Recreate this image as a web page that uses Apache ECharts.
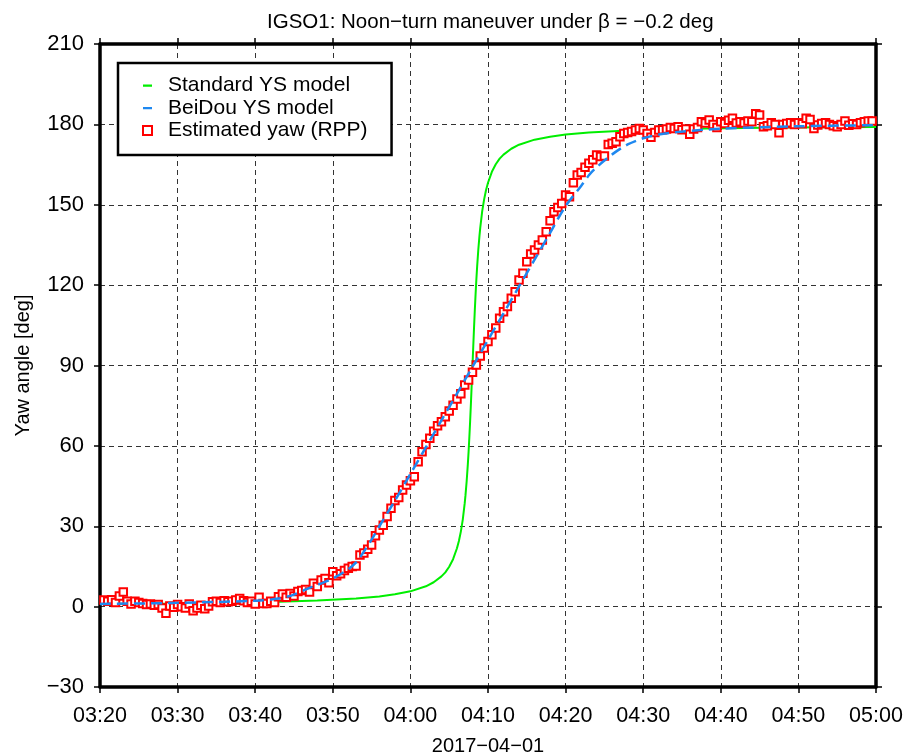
<!DOCTYPE html>
<html><head><meta charset="utf-8">
<script src="https://cdn.jsdelivr.net/npm/echarts@6/dist/echarts.min.js"></script>
<style>html,body{margin:0;padding:0;background:#fff}#c{width:906px;height:756px}</style>
</head><body><div id="c"></div>
<script>
// x axis: minutes after 03:20 on 2017-04-01
const xTickLabels = ['03:20','03:30','03:40','03:50','04:00','04:10','04:20','04:30','04:40','04:50','05:00'];
const yTicks = [-30, 0, 30, 60, 90, 120, 150, 180, 210];

// Estimated yaw (RPP), 30 s sampling starting 03:20:30
const yawStartMin = 0.5;
const yawStepMin = 0.5;
const yawRPP = [
  2.5, 2.0, 2.6, 1.5, 4.0, 5.5, 2.0, 1.0, 2.0, 1.5,
  1.2, 0.8, 1.0, 0.5, 0.8, -0.5, -2.5, 0.2, -0.2, 0.8,
  0.0, -0.5, 1.0, -1.5, -0.5, 0.5, -0.8, 0.2, 1.8, 2.0,
  1.5, 2.2, 1.8, 2.0, 2.5, 3.0, 2.2, 1.5, 2.0, 1.0,
  3.5, 1.2, 1.2, 2.0, 1.5, 3.7, 4.7, 3.5, 4.9, 4.0,
  5.6, 6.0, 6.4, 5.5, 8.7, 7.5, 9.9, 10.5, 8.9, 13.0,
  11.5, 12.3, 13.5, 14.3, 15.0, 15.2, 19.3, 20.0, 21.4, 23.0,
  26.5, 28.6, 30.4, 33.6, 36.7, 39.6, 40.7, 43.5, 45.4, 47.0,
  48.5, 54.1, 57.8, 60.5, 62.8, 65.5, 67.5, 69.0, 70.9, 73.0,
  75.2, 77.5, 79.5, 82.7, 84.6, 87.5, 90.2, 93.5, 96.5, 99.0,
  101.5, 104.0, 107.6, 110.1, 112.0, 115.1, 117.5, 121.9, 124.4, 128.7,
  131.6, 133.1, 135.0, 136.8, 139.9, 144.0, 147.4, 149.0, 150.5, 153.6,
  153.0, 158.2, 161.1, 162.0, 164.0, 165.5, 166.8, 168.6, 168.0, 168.2,
  172.5, 173.0, 173.5, 175.4, 176.6, 177.0, 177.3, 177.9, 178.5, 177.9,
  176.6, 175.2, 177.0, 177.9, 178.0, 178.3, 178.8, 178.5, 179.1, 178.0,
  178.3, 176.3, 178.3, 178.8, 181.0, 180.5, 181.6, 180.0, 178.8, 181.0,
  180.3, 181.5, 182.3, 180.5, 181.0, 180.5, 181.3, 181.0, 184.0, 183.5,
  179.1, 179.5, 180.6, 180.0, 176.9, 180.0, 180.3, 180.6, 180.0, 180.6,
  180.2, 182.3, 181.8, 178.5, 179.8, 180.3, 180.6, 180.0, 179.5, 179.1,
  180.0, 181.3, 179.7, 180.2, 180.0, 180.6, 181.0, 181.3, 181.3
];

// Standard YS model
const stdTimes = [0, 10, 20, 28, 33, 36, 38, 40, 42, 43, 44, 44.5, 45, 45.5, 46, 46.25, 46.5, 46.75, 47, 47.1, 47.25, 47.4, 47.5, 47.6, 47.7, 47.8, 47.9, 48, 48.1, 48.2, 48.3, 48.4, 48.5, 48.6, 48.75, 48.9, 49, 49.25, 49.5, 49.75, 50, 50.5, 51, 51.5, 52, 53, 54, 56, 58, 60, 63, 68, 78, 88, 100];
const stdYaw   = [1.0, 1.2, 1.5, 2.3, 3.0, 3.8, 4.6, 5.7, 7.6, 9.1, 11.3, 12.8, 14.9, 17.7, 21.8, 24.5, 28.0, 32.5, 38.6, 41.6, 46.8, 53.1, 57.9, 63.4, 69.4, 75.9, 82.9, 90.0, 97.1, 104.1, 110.6, 116.6, 122.1, 126.9, 133.2, 138.4, 141.4, 147.5, 152.0, 155.5, 158.2, 162.3, 165.1, 167.2, 168.7, 170.9, 172.4, 174.3, 175.4, 176.2, 177.0, 177.7, 178.5, 178.8, 179.0];

// BeiDou YS model
const bdsTimes = [0, 10, 20, 23, 25, 27, 30, 32, 33, 34, 35, 36, 38, 40, 42, 44, 46, 48, 50, 52, 54, 56, 58, 60, 62, 63, 64, 66, 68, 70, 72, 74, 80, 90, 100];
const bdsYaw   = [1.0, 1.4, 2.2, 3.0, 4.5, 7.0, 10.5, 14.0, 16.5, 20.5, 25.0, 30.0, 39.5, 49.5, 59.5, 69.5, 79.5, 89.5, 99.5, 109.5, 119.5, 129.5, 139.5, 149.5, 157.0, 161.0, 164.0, 168.8, 172.5, 174.8, 176.2, 177.0, 178.4, 179.3, 179.7];

const FONT = 'Liberation Sans';
const pair = (xs, ys) => xs.map((x, i) => [x, ys[i]]);
const yawData = yawRPP.map((v, i) => [yawStartMin + i * yawStepMin, v]);

// legend icon: short horizontal dash inside a 9x9 box
const dashIcon = 'path://M0,0 L0.01,0 M0,3.5 L9,3.5 L9,5.7 L0,5.7 Z M9,9 L8.99,9';

const chart = echarts.init(document.getElementById('c'), null, {renderer: 'canvas'});
const frameLine = {show: true, onZero: false, lineStyle: {color: '#000', width: 3.5}};
const tick = {show: true, inside: false, length: 6, lineStyle: {color: '#000', width: 1.5}};
const grid = {show: true, lineStyle: {color: '#333', width: 1, type: [5, 4]}};

chart.setOption({
  animation: false,
  backgroundColor: '#fff',
  title: {
    text: 'IGSO1: Noon\u2212turn maneuver under \u03B2 = \u22120.2 deg',
    left: 262, top: 7,
    textStyle: {fontFamily: FONT, fontSize: 20.5, fontWeight: 'normal', color: '#000'}
  },
  grid: {left: 100, right: 30, top: 44, bottom: 69, containLabel: false, outerBoundsMode: 'none'},
  legend: {
    left: 118, top: 63,
    orient: 'vertical',
    backgroundColor: '#fff',
    borderColor: '#000', borderWidth: 2.5, borderRadius: 0,
    padding: [12, 24, 14, 24],
    itemWidth: 9, itemHeight: 9, itemGap: 1.5,
    textStyle: {fontFamily: FONT, fontSize: 21, lineHeight: 21, color: '#000', padding: [0, 0, 0, 11]},
    data: [
      {name: 'Standard YS model', icon: dashIcon},
      {name: 'BeiDou YS model', icon: dashIcon},
      {name: 'Estimated yaw (RPP)', icon: 'rect'}
    ]
  },
  xAxis: [{
    type: 'value', min: 0, max: 100, interval: 10, position: 'bottom',
    name: '2017\u221204\u221201', nameLocation: 'middle', nameGap: 49,
    nameTextStyle: {fontFamily: FONT, fontSize: 20, color: '#000'},
    axisLine: frameLine, axisTick: tick, splitLine: grid,
    axisLabel: {fontFamily: FONT, fontSize: 21.5, color: '#000', margin: 18,
      formatter: v => xTickLabels[Math.round(v / 10)]}
  }, {
    type: 'value', min: 0, max: 100, interval: 10, position: 'top',
    axisLine: frameLine, axisTick: tick, splitLine: {show: false}, axisLabel: {show: false}
  }],
  yAxis: [{
    type: 'value', min: yTicks[0], max: yTicks[yTicks.length - 1], interval: 30, position: 'left',
    name: 'Yaw angle [deg]', nameLocation: 'middle', nameGap: 67,
    nameTextStyle: {fontFamily: FONT, fontSize: 20, color: '#000'},
    axisLine: frameLine, axisTick: tick, splitLine: grid,
    axisLabel: {fontFamily: FONT, fontSize: 22, color: '#000', margin: 16,
      formatter: v => (v < 0 ? '\u2212' + Math.abs(v) : String(v))}
  }, {
    type: 'value', min: yTicks[0], max: yTicks[yTicks.length - 1], interval: 30, position: 'right',
    axisLine: frameLine, axisTick: tick, splitLine: {show: false}, axisLabel: {show: false}
  }],
  series: [{
    name: 'Standard YS model', type: 'line', data: pair(stdTimes, stdYaw),
    showSymbol: false, symbol: 'none', smooth: false, z: 2,
    itemStyle: {color: '#00ee00'},
    lineStyle: {color: '#00ee00', width: 2}
  }, {
    name: 'Estimated yaw (RPP)', type: 'scatter', data: yawData,
    symbol: 'rect', symbolSize: 7.5, z: 3,
    itemStyle: {color: '#fff', borderColor: '#ff0000', borderWidth: 2, opacity: 1}
  }, {
    name: 'BeiDou YS model', type: 'line', data: pair(bdsTimes, bdsYaw),
    showSymbol: false, symbol: 'none', smooth: 0.3, z: 4,
    itemStyle: {color: '#1e88f0'},
    lineStyle: {color: '#1e88f0', width: 2.5, type: [11, 6]}
  }]
});
</script></body></html>
